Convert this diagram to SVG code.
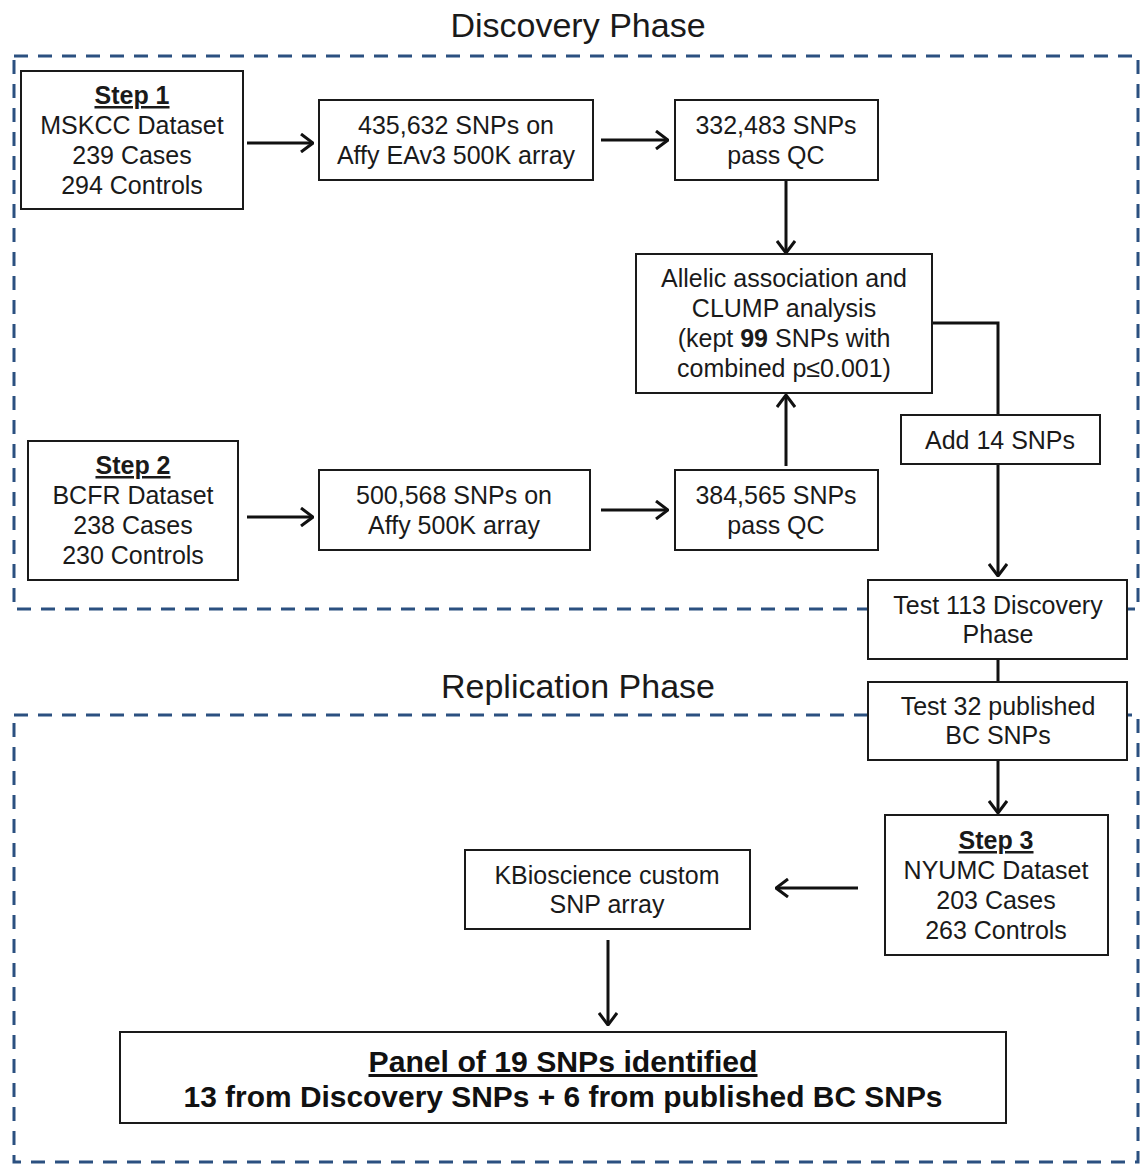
<svg xmlns="http://www.w3.org/2000/svg" width="1142" height="1165" viewBox="0 0 1142 1165">
<style>
.bg{fill:#ffffff}
.phase{fill:none;stroke:#2b5080;stroke-width:3;stroke-dasharray:14 10}
.box{fill:#ffffff;stroke:#1a1a1a;stroke-width:2}
.t{font-family:"Liberation Sans",Arial,sans-serif;font-size:25px;fill:#1a1a1a;text-anchor:middle}
.b{font-weight:bold}
.u{text-decoration:underline}
.title{font-family:"Liberation Sans",Arial,sans-serif;font-size:34px;fill:#1a1a1a;text-anchor:middle}
.pan{font-family:"Liberation Sans",Arial,sans-serif;font-size:30px;font-weight:bold;fill:#111;text-anchor:middle}
.c{fill:none;stroke:#111;stroke-width:3}
</style>
<defs>
<marker id="ah" viewBox="0 0 14 20" refX="13" refY="10" markerWidth="14" markerHeight="20" markerUnits="userSpaceOnUse" orient="auto">
<path d="M1,1 L13,10 L1,19" fill="none" stroke="#111" stroke-width="3"/>
</marker>
</defs>
<rect class="bg" x="0" y="0" width="1142" height="1165"/>
<text class="title" x="578" y="37">Discovery Phase</text>
<text class="title" x="578" y="698">Replication Phase</text>
<rect class="phase" x="14" y="56" width="1124" height="553"/>
<rect class="phase" x="14" y="715" width="1124" height="447"/>
<g id="connectors">
<line class="c" x1="247" y1="143" x2="313" y2="143" marker-end="url(#ah)"/>
<line class="c" x1="601" y1="140" x2="668" y2="140" marker-end="url(#ah)"/>
<line class="c" x1="786" y1="180" x2="786" y2="253" marker-end="url(#ah)"/>
<line class="c" x1="786" y1="466" x2="786" y2="395" marker-end="url(#ah)"/>
<line class="c" x1="247" y1="517" x2="313" y2="517" marker-end="url(#ah)"/>
<line class="c" x1="601" y1="510" x2="668" y2="510" marker-end="url(#ah)"/>
<polyline class="c" points="932,323 998,323 998,415"/>
<line class="c" x1="998" y1="464" x2="998" y2="576" marker-end="url(#ah)"/>
<line class="c" x1="998" y1="659" x2="998" y2="682"/>
<line class="c" x1="998" y1="760" x2="998" y2="813" marker-end="url(#ah)"/>
<line class="c" x1="858" y1="888" x2="776" y2="888" marker-end="url(#ah)"/>
<line class="c" x1="608" y1="940" x2="608" y2="1025" marker-end="url(#ah)"/>
</g>
<g id="step1">
<rect class="box" x="21" y="71" width="222" height="138"/>
<text class="t b u" x="132" y="104">Step 1</text>
<text class="t" x="132" y="134">MSKCC Dataset</text>
<text class="t" x="132" y="164">239 Cases</text>
<text class="t" x="132" y="194">294 Controls</text>
</g>
<g id="snps435">
<rect class="box" x="319" y="100" width="274" height="80"/>
<text class="t" x="456" y="134">435,632 SNPs on</text>
<text class="t" x="456" y="164">Affy EAv3 500K array</text>
</g>
<g id="qc332">
<rect class="box" x="675" y="100" width="203" height="80"/>
<text class="t" x="776" y="134">332,483 SNPs</text>
<text class="t" x="776" y="164">pass QC</text>
</g>
<g id="allelic">
<rect class="box" x="636" y="254" width="296" height="139"/>
<text class="t" x="784" y="287">Allelic association and</text>
<text class="t" x="784" y="317">CLUMP analysis</text>
<text class="t" x="784" y="347">(kept <tspan class="b">99</tspan> SNPs with</text>
<text class="t" x="784" y="377">combined p≤0.001)</text>
</g>
<g id="add14">
<rect class="box" x="901" y="415" width="199" height="49"/>
<text class="t" x="1000" y="449">Add 14 SNPs</text>
</g>
<g id="step2">
<rect class="box" x="28" y="441" width="210" height="139"/>
<text class="t b u" x="133" y="474">Step 2</text>
<text class="t" x="133" y="504">BCFR Dataset</text>
<text class="t" x="133" y="534">238 Cases</text>
<text class="t" x="133" y="564">230 Controls</text>
</g>
<g id="snps500">
<rect class="box" x="319" y="470" width="271" height="80"/>
<text class="t" x="454" y="504">500,568 SNPs on</text>
<text class="t" x="454" y="534">Affy 500K array</text>
</g>
<g id="qc384">
<rect class="box" x="675" y="470" width="203" height="80"/>
<text class="t" x="776" y="504">384,565 SNPs</text>
<text class="t" x="776" y="534">pass QC</text>
</g>
<g id="test113">
<rect class="box" x="868" y="580" width="259" height="79"/>
<text class="t" x="998" y="614">Test 113 Discovery</text>
<text class="t" x="998" y="643">Phase</text>
</g>
<g id="test32">
<rect class="box" x="868" y="682" width="259" height="78"/>
<text class="t" x="998" y="715">Test 32 published</text>
<text class="t" x="998" y="744">BC SNPs</text>
</g>
<g id="step3">
<rect class="box" x="885" y="815" width="223" height="140"/>
<text class="t b u" x="996" y="849">Step 3</text>
<text class="t" x="996" y="879">NYUMC Dataset</text>
<text class="t" x="996" y="909">203 Cases</text>
<text class="t" x="996" y="939">263 Controls</text>
</g>
<g id="kbio">
<rect class="box" x="465" y="850" width="285" height="79"/>
<text class="t" x="607" y="884">KBioscience custom</text>
<text class="t" x="607" y="913">SNP array</text>
</g>
<g id="panel">
<rect class="box" x="120" y="1032" width="886" height="91"/>
<text class="pan u" x="563" y="1072" textLength="389" lengthAdjust="spacingAndGlyphs">Panel of 19 SNPs identified</text>
<text class="pan" x="563" y="1107" textLength="759" lengthAdjust="spacingAndGlyphs">13 from Discovery SNPs + 6 from published BC SNPs</text>
</g>
</svg>
